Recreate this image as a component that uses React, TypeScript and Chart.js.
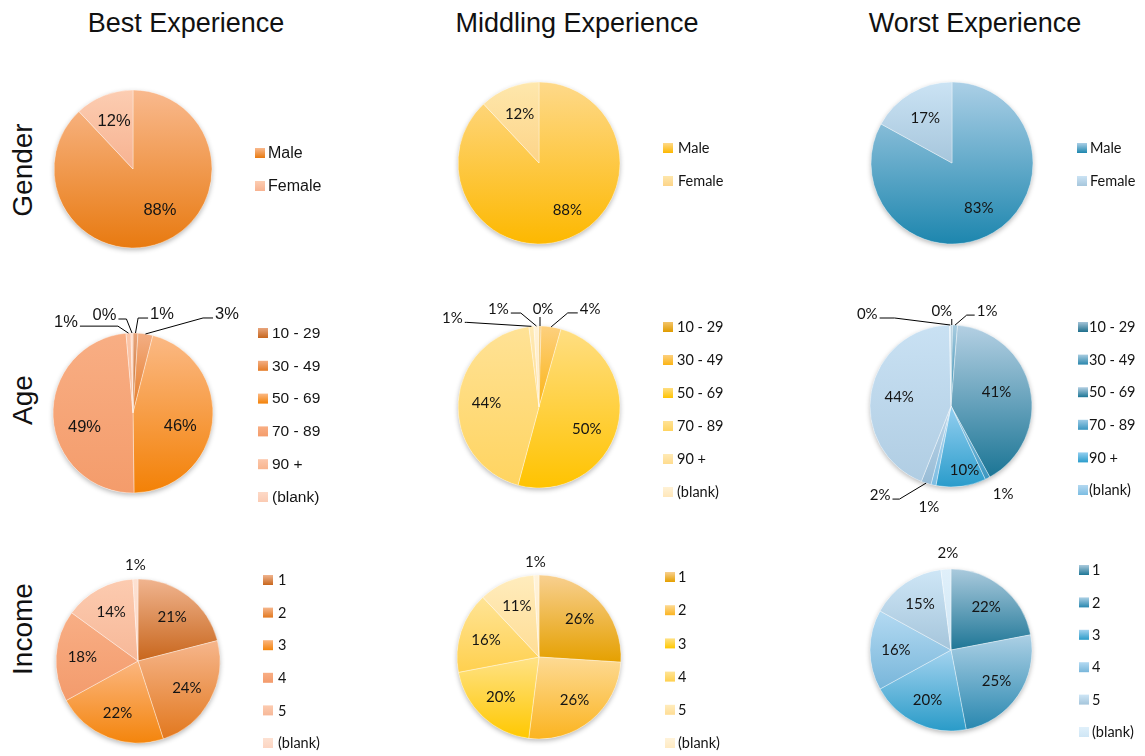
import React, { useEffect, useRef } from 'react';
import { Chart, registerables } from 'chart.js';

Chart.register(...registerables);

const W = 1145;
const H = 756;

// ---------- data ----------
const columnTitles = ['Best Experience', 'Middling Experience', 'Worst Experience'];
const rowTitles = ['Gender', 'Age', 'Income'];

const genderLabels = ['Male', 'Female'];
const ageLabels = ['10 - 29', '30 - 49', '50 - 69', '70 - 89', '90 +', '(blank)'];
const incomeLabels = ['1', '2', '3', '4', '5', '(blank)'];
// the Worst/Age pie holds more slices than its legend lists
const worstAgeSliceLabels = ['10 - 29', '30 - 49', '50 - 69', '70 - 89', '90 +', '(blank)', '10 - 29', '30 - 49', '50 - 69'];

const bestGender = [88, 12];
const middlingGender = [88, 12];
const worstGender = [83, 17];

const bestAge = [1, 3, 46, 49, 1, 0.4];
const middlingAge = [0.4, 4, 50, 44, 1, 1];
const worstAge = [0.3, 1, 41, 1, 10, 1, 2, 44, 0.3];

const bestIncome = [21, 24, 22, 18, 14, 1];
const middlingIncome = [26, 26, 20, 16, 11, 1];
const worstIncome = [22, 25, 20, 16, 15, 2];

// ---------- styles ----------
const HELV = "'Liberation Sans', Arial, Helvetica, sans-serif";
const CAL = "Lato, 'Open Sans', sans-serif";

type Outside = { dx: number; dy: number; h?: number; line?: boolean; down?: boolean };
type Panel = {
  id: string;
  data: number[];
  labels: string[];
  legend: string[];
  cx: number;
  cy: number;
  r: number;
  family: string;
  size: number;
  legendSize: number;
  labelR: number;
  nudge: Record<number, [number, number]>;
  outside: Record<number, Outside>;
  top: string[];
  bottom: string[];
  lx: number;
  ly: number;
  lgap: number;
  ltx: number;
};

const panels: Panel[] = [
  {
    id: 'bestGender', data: bestGender, labels: genderLabels, legend: genderLabels,
    cx: 133, cy: 169, r: 79, family: HELV, size: 16.5, legendSize: 16, labelR: 0.65,
    nudge: { 0: [8, -6] }, outside: {},
    top: ['#f9b98e', '#fccdb2'], bottom: ['#e87a10', '#f7b290'],
    lx: 255, ly: 153, lgap: 33, ltx: 268,
  },
  {
    id: 'middlingGender', data: middlingGender, labels: genderLabels, legend: genderLabels,
    cx: 539, cy: 163, r: 81, family: CAL, size: 15, legendSize: 14.5, labelR: 0.65,
    nudge: { 0: [9, -2] }, outside: {},
    top: ['#fed98a', '#fee7ac'], bottom: ['#fdb800', '#fdd488'],
    lx: 663, ly: 148, lgap: 33, ltx: 678,
  },
  {
    id: 'worstGender', data: worstGender, labels: genderLabels, legend: genderLabels,
    cx: 952, cy: 163, r: 81, family: CAL, size: 15, legendSize: 14.5, labelR: 0.65,
    nudge: {}, outside: {},
    top: ['#abcfe6', '#cbe3f4'], bottom: ['#1d86ae', '#a6c6dc'],
    lx: 1077, ly: 148, lgap: 33, ltx: 1090,
  },
  {
    id: 'bestAge', data: bestAge, labels: ageLabels, legend: ageLabels,
    cx: 133, cy: 413, r: 80, family: HELV, size: 16.5, legendSize: 15.5, labelR: 0.62,
    nudge: { 2: [-2, 8], 3: [1, 12] },
    outside: {
      4: { dx: -62.5, dy: -11, h: 38 },
      5: { dx: -27.5, dy: -18, h: 8 },
      0: { dx: 26.5, dy: -19, h: 10 },
      1: { dx: 81.5, dy: -20, h: 10 },
    },
    top: ['#e8a57c', '#f3ae84', '#fbb985', '#f8ae84', '#fcc7ab', '#fdd9c7'],
    bottom: ['#c6661e', '#e47b26', '#f38106', '#f49c6b', '#f8b58f', '#fbcbb3'],
    lx: 258, ly: 333, lgap: 32.8, ltx: 272,
  },
  {
    id: 'middlingAge', data: middlingAge, labels: ageLabels, legend: ageLabels,
    cx: 539, cy: 407, r: 81, family: CAL, size: 15, legendSize: 14.5, labelR: 0.65,
    nudge: { 2: [-3, 8] },
    outside: {
      4: { dx: -79, dy: -8, h: 2 },
      5: { dx: -38, dy: -17, h: 10 },
      0: { dx: 3, dy: -17, down: true },
      1: { dx: 39, dy: -18, h: 10 },
    },
    top: ['#f3c46a', '#fdd07e', '#ffde82', '#ffe296', '#ffeab6', '#fff2d6'],
    bottom: ['#e09c00', '#fbb414', '#ffc300', '#ffd460', '#ffdc8e', '#ffe7ba'],
    lx: 663, ly: 327, lgap: 33, ltx: 677,
  },
  {
    id: 'worstAge', data: worstAge, labels: worstAgeSliceLabels, legend: ageLabels,
    cx: 951, cy: 406, r: 81, family: CAL, size: 15, legendSize: 14.5, labelR: 0.65,
    nudge: { 2: [-6, -3], 4: [7, 12] },
    outside: {
      8: { dx: -83, dy: -11, h: 15 },
      0: { dx: -10, dy: -14, down: true },
      1: { dx: 32, dy: -14, h: 8 },
      3: { dx: 15.5, dy: 16, line: false },
      5: { dx: -4.5, dy: 22, line: false },
      6: { dx: -46, dy: 12, h: 7 },
    },
    top: ['#a4c4d8', '#a8cce0', '#b4d0e3', '#9ccbe6', '#94cff0', '#b4d8f0', '#bcd6ea', '#c9e1f3', '#dcedf8'],
    bottom: ['#1e6f8c', '#2a86ac', '#1b7595', '#3a96c0', '#2a9ccb', '#7cbde2', '#98bcd6', '#b0cde3', '#c6dff0'],
    lx: 1078, ly: 327, lgap: 32.6, ltx: 1089,
  },
  {
    id: 'bestIncome', data: bestIncome, labels: incomeLabels, legend: incomeLabels,
    cx: 138, cy: 661, r: 82, family: CAL, size: 15, legendSize: 14.5, labelR: 0.68,
    nudge: {},
    outside: { 5: { dx: 0, dy: -14, line: false } },
    top: ['#f0b48f', '#f6b68c', '#fbb680', '#f8ae85', '#fccbb0', '#fde1d2'],
    bottom: ['#c8661c', '#e2781e', '#f4850c', '#f39b6c', '#f7b898', '#fcd5c2'],
    lx: 263, ly: 580, lgap: 32.6, ltx: 278,
  },
  {
    id: 'middlingIncome', data: middlingIncome, labels: incomeLabels, legend: incomeLabels,
    cx: 539, cy: 657, r: 82, family: CAL, size: 15, legendSize: 14.5, labelR: 0.68,
    nudge: {},
    outside: { 5: { dx: -1, dy: -13, line: false } },
    top: ['#f8d090', '#fdda94', '#ffe286', '#ffe496', '#ffecbd', '#fff3da'],
    bottom: ['#e5a000', '#fbb420', '#ffc800', '#ffd04e', '#ffdd94', '#ffeac2'],
    lx: 665, ly: 577, lgap: 33.2, ltx: 678,
  },
  {
    id: 'worstIncome', data: worstIncome, labels: incomeLabels, legend: incomeLabels,
    cx: 951, cy: 650, r: 81, family: CAL, size: 15, legendSize: 14.5, labelR: 0.68,
    nudge: {},
    outside: { 5: { dx: 2, dy: -16, line: false } },
    top: ['#aacadd', '#acd0e5', '#a3d3ef', '#b4daf2', '#cee6f6', '#e0f0fa'],
    bottom: ['#1e7696', '#2887af', '#2a9bc8', '#78b6da', '#a5c5db', '#cfe6f5'],
    lx: 1079, ly: 570, lgap: 32.4, ltx: 1092,
  },
];

const titleCenters = [186, 577, 975];
const rowCenters = [170, 400, 629];

// ---------- helpers ----------
function sliceGradient(c: any, p: Panel) {
  const i = c.dataIndex;
  const chart = c.chart;
  const ca = chart.chartArea;
  if (i === undefined || !ca) return p.bottom[0];
  const data: number[] = c.dataset.data;
  const total = data.reduce((a, b) => a + b, 0);
  let before = 0;
  for (let k = 0; k < i; k++) before += data[k];
  const a0 = -Math.PI / 2 + (before / total) * Math.PI * 2;
  const a1 = a0 + (data[i] / total) * Math.PI * 2;
  const cx = (ca.left + ca.right) / 2;
  const cy = (ca.top + ca.bottom) / 2;
  const r = p.r;
  const ys = [cy, cy + r * Math.sin(a0), cy + r * Math.sin(a1)];
  for (let k = -1; k <= 2; k++) {
    const down = Math.PI / 2 + 2 * Math.PI * k;
    const up = -Math.PI / 2 + 2 * Math.PI * k;
    if (down >= a0 && down <= a1) ys.push(cy + r);
    if (up >= a0 && up <= a1) ys.push(cy - r);
  }
  let minY = Math.min(...ys);
  let maxY = Math.max(...ys);
  if (maxY - minY < 1) maxY = minY + 1;
  const g = chart.ctx.createLinearGradient(0, minY, 0, maxY);
  g.addColorStop(0, p.top[i]);
  g.addColorStop(1, p.bottom[i]);
  return g;
}

function makePlugins(p: Panel) {
  const shadow = {
    id: 'pieShadow_' + p.id,
    beforeDatasetsDraw(chart: any) {
      const ctx = chart.ctx;
      const ca = chart.chartArea;
      const cx = (ca.left + ca.right) / 2;
      const cy = (ca.top + ca.bottom) / 2;
      ctx.save();
      ctx.shadowColor = 'rgba(0,0,0,0.28)';
      ctx.shadowBlur = 5;
      ctx.shadowOffsetY = 2;
      ctx.fillStyle = '#ffffff';
      ctx.beginPath();
      ctx.arc(cx, cy, p.r, 0, Math.PI * 2);
      ctx.fill();
      ctx.restore();
    },
  };
  const labels = {
    id: 'pieLabels_' + p.id,
    afterDatasetsDraw(chart: any) {
      const ctx = chart.ctx;
      const meta = chart.getDatasetMeta(0);
      const values: number[] = chart.data.datasets[0].data;
      ctx.save();
      ctx.font = `${p.size}px ${p.family}`;
      ctx.fillStyle = '#141414';
      ctx.strokeStyle = '#000000';
      ctx.lineWidth = 1;
      ctx.textAlign = 'center';
      ctx.textBaseline = 'middle';
      meta.data.forEach((arc: any, i: number) => {
        const { x, y, startAngle, endAngle, outerRadius } = arc.getProps(
          ['x', 'y', 'startAngle', 'endAngle', 'outerRadius'], true);
        const mid = (startAngle + endAngle) / 2;
        const text = Math.round(values[i]) + '%';
        const o = p.outside[i];
        if (o) {
          const px = x + Math.cos(mid) * outerRadius;
          const py = y + Math.sin(mid) * outerRadius;
          const tx = px + o.dx;
          const ty = py + o.dy;
          ctx.fillText(text, tx, ty);
          if (o.line !== false) {
            ctx.beginPath();
            if (o.down) {
              ctx.moveTo(px, ty + 8);
              ctx.lineTo(px, py);
            } else {
              const w = ctx.measureText(text).width;
              const side = o.dx >= 0 ? -1 : 1;
              const ex = tx + side * (w / 2 + 2);
              const ly = ty + 4;
              ctx.moveTo(ex, ly);
              ctx.lineTo(ex + side * (o.h ?? 8), ly);
              ctx.lineTo(px, py);
            }
            ctx.stroke();
          }
        } else {
          const rr = outerRadius * p.labelR;
          const n = p.nudge[i] || [0, 0];
          ctx.fillText(text, x + Math.cos(mid) * rr + n[0], y + Math.sin(mid) * rr + n[1]);
        }
      });
      ctx.restore();
    },
    afterDraw(chart: any) {
      const ctx = chart.ctx;
      ctx.save();
      ctx.font = `${p.legendSize}px ${p.family}`;
      ctx.textAlign = 'left';
      ctx.textBaseline = 'middle';
      p.legend.forEach((lab, i) => {
        const yy = p.ly + i * p.lgap;
        const g = ctx.createLinearGradient(0, yy - 5, 0, yy + 5);
        g.addColorStop(0, p.top[i]);
        g.addColorStop(1, p.bottom[i]);
        ctx.fillStyle = g;
        ctx.fillRect(p.lx, yy - 5, 10, 10);
        ctx.fillStyle = '#141414';
        ctx.fillText(lab, p.ltx, yy + 0.5);
      });
      ctx.restore();
    },
  };
  return [shadow, labels];
}

function makeConfig(p: Panel): any {
  return {
    type: 'pie',
    data: {
      labels: p.labels,
      datasets: [
        {
          data: p.data,
          radius: p.r,
          backgroundColor: (c: any) => sliceGradient(c, p),
          borderColor: 'rgba(255,255,255,0.45)',
          borderWidth: 0.8,
          hoverOffset: 0,
        },
      ],
    },
    options: {
      responsive: false,
      maintainAspectRatio: false,
      animation: false,
      events: [],
      rotation: 0,
      layout: {
        padding: {
          left: p.cx - p.r,
          right: W - p.cx - p.r,
          top: p.cy - p.r,
          bottom: H - p.cy - p.r,
        },
      },
      plugins: {
        legend: { display: false },
        tooltip: { enabled: false },
        title: { display: false },
      },
    },
    plugins: makePlugins(p),
  };
}

export default function App() {
  const refs = useRef<(HTMLCanvasElement | null)[]>([]);

  useEffect(() => {
    const charts = panels.map((p, k) => new Chart(refs.current[k] as HTMLCanvasElement, makeConfig(p)));
    return () => {
      charts.forEach((c) => c.destroy());
    };
  }, []);

  return (
    <div
      style={{
        position: 'absolute',
        left: 0,
        top: 0,
        width: W,
        height: H,
        background: '#ffffff',
        overflow: 'hidden',
      }}
    >
      {columnTitles.map((t, i) => (
        <div
          key={t}
          style={{
            position: 'absolute',
            left: titleCenters[i],
            top: 10,
            transform: 'translateX(-50%)',
            fontFamily: HELV,
            fontSize: 27,
            lineHeight: '27px',
            whiteSpace: 'nowrap',
            color: '#111',
          }}
        >
          {t}
        </div>
      ))}
      {rowTitles.map((t, i) => (
        <div
          key={t}
          style={{
            position: 'absolute',
            left: 23,
            top: rowCenters[i],
            transform: 'translate(-50%, -50%) rotate(-90deg)',
            fontFamily: HELV,
            fontSize: 28,
            lineHeight: '28px',
            whiteSpace: 'nowrap',
            color: '#111',
          }}
        >
          {t}
        </div>
      ))}
      {panels.map((p, k) => (
        <canvas
          key={p.id}
          ref={(el) => {
            refs.current[k] = el;
          }}
          width={W}
          height={H}
          style={{ position: 'absolute', left: 0, top: 0, width: W, height: H }}
        />
      ))}
    </div>
  );
}
